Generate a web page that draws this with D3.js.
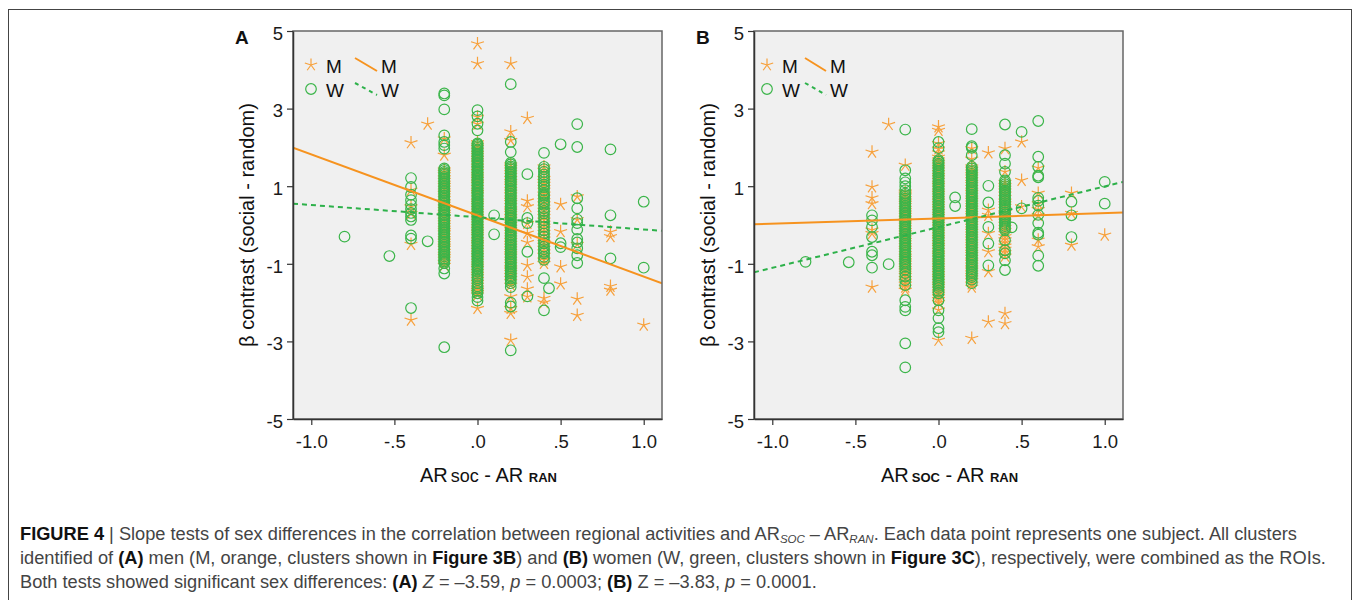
<!DOCTYPE html>
<html>
<head>
<meta charset="utf-8">
<script src="https://cdn.jsdelivr.net/npm/d3@7/dist/d3.min.js"></script>
<style>
body { margin:0; background:#fff; }
svg text { font-family: "Liberation Sans", Arial, Helvetica, sans-serif; }
</style>
</head>
<body>
<svg id="fig" width="1358" height="600"></svg>
<script>
// tick values and labels
var yTicks = [5, 3, 1, -1, -3, -5];
var xTicks = [-1, -0.5, 0, 0.5, 1];
var xTickLabels = ["-1.0", "-.5", ".0", ".5", "1.0"];

// fit lines, y value at left / right end of the x range
var fitX = [-1.11, 1.11];
var fitA_M = [1.99, -1.50];
var fitA_W = [0.55, -0.15];
var fitB_M = [0.02, 0.32];
var fitB_W = [-1.22, 1.11];

// points, grouped by x column: [x, [y values]]
var menA = [
  [-0.4, [2.12, 0.9, 0.47, 0.3, -0.5, -2.45]],
  [-0.3, [2.6]],
  [-0.2, [2.22, 1.8, 1.42, 1.36, 1.3, 1.22, 1.15, 1.08, 1.02, 0.95, 0.88, 0.82, 0.75, 0.68, 0.6, 0.54, 0.47, 0.4, 0.33, 0.27, 0.2, 0.13, 0.06, -0.01, -0.08, -0.14, -0.2, -0.28, -0.35, -0.41, -0.48, -0.54, -0.6, -0.68, -0.75, -0.81, -0.88, -0.96, -1.04]],
  [0, [4.67, 4.16, 2.78, 2.6, 2.12, 2.06, 2.0, 1.93, 1.85, 1.79, 1.72, 1.66, 1.6, 1.52, 1.45, 1.38, 1.3, 1.24, 1.18, 1.11, 1.05, 0.97, 0.9, 0.84, 0.78, 0.7, 0.62, 0.56, 0.5, 0.43, 0.36, 0.29, 0.22, 0.16, 0.1, 0.03, -0.04, -0.11, -0.18, -0.24, -0.3, -0.38, -0.45, -0.51, -0.58, -0.65, -0.72, -0.79, -0.86, -0.93, -1.0, -1.06, -1.12, -1.2, -1.27, -1.33, -1.4, -1.48, -1.55, -1.62, -1.68, -1.74, -1.8, -2.15]],
  [0.2, [4.16, 2.4, 2.18, 1.55, 1.49, 1.42, 1.35, 1.28, 1.2, 1.12, 1.06, 1.0, 0.92, 0.85, 0.78, 0.7, 0.64, 0.58, 0.5, 0.42, 0.36, 0.3, 0.22, 0.15, 0.08, 0.02, -0.05, -0.12, -0.19, -0.26, -0.33, -0.4, -0.47, -0.54, -0.61, -0.68, -0.74, -0.8, -0.88, -0.95, -1.02, -1.1, -1.16, -1.22, -1.3, -1.38, -1.46, -1.55, -1.85, -2.15, -2.28, -2.97]],
  [0.3, [2.75, 0.62, 0.47, 0.04, -0.21, -0.45, -1.04, -1.34, -1.65, -1.85]],
  [0.4, [1.5, 1.41, 1.2, 1.12, 1.05, 0.97, 0.9, 0.8, 0.72, 0.63, 0.55, 0.46, 0.38, 0.3, 0.22, 0.13, 0.05, -0.03, -0.1, -0.19, -0.28, -0.36, -0.45, -0.52, -0.6, -0.69, -0.78, -0.9, -0.99, -1.89, -2.0]],
  [0.5, [0.53, -0.17, -1.08, -1.52]],
  [0.6, [0.73, 0.14, -0.5, -1.91, -2.33]],
  [0.8, [-0.18, -0.3, -1.58, -1.68]],
  [1.0, [-2.58]]
];
var womenA = [
  [-0.8, [-0.30]],
  [-0.53, [-0.80]],
  [-0.4, [1.21, 0.98, 0.78, 0.64, 0.52, 0.41, 0.31, 0.22, 0.13, -0.27, -0.35, -2.14]],
  [-0.3, [-0.42]],
  [-0.2, [3.39, 3.34, 2.98, 2.31, 2.14, 2.06, 1.97, 1.46, 1.42, 1.37, 1.33, 1.29, 1.24, 1.2, 1.16, 1.11, 1.07, 1.02, 0.98, 0.94, 0.89, 0.85, 0.81, 0.76, 0.72, 0.67, 0.63, 0.59, 0.54, 0.5, 0.46, 0.41, 0.37, 0.33, 0.28, 0.24, 0.19, 0.15, 0.11, 0.06, 0.02, -0.02, -0.07, -0.11, -0.16, -0.2, -0.24, -0.29, -0.33, -0.37, -0.42, -0.46, -0.51, -0.55, -0.59, -0.64, -0.68, -0.72, -0.77, -0.81, -0.86, -0.9, -0.94, -0.98, -1.12, -1.25, -3.15]],
  [0, [2.96, 2.8, 2.61, 2.44, 2.1, 2.07, 2.03, 1.99, 1.95, 1.92, 1.88, 1.84, 1.8, 1.77, 1.72, 1.69, 1.65, 1.61, 1.57, 1.53, 1.5, 1.46, 1.41, 1.38, 1.34, 1.3, 1.26, 1.22, 1.18, 1.15, 1.1, 1.07, 1.03, 0.99, 0.95, 0.91, 0.87, 0.83, 0.8, 0.76, 0.72, 0.68, 0.64, 0.6, 0.56, 0.53, 0.49, 0.45, 0.41, 0.37, 0.33, 0.29, 0.25, 0.22, 0.18, 0.14, 0.1, 0.06, 0.02, -0.02, -0.06, -0.1, -0.13, -0.17, -0.21, -0.25, -0.29, -0.33, -0.37, -0.41, -0.44, -0.48, -0.52, -0.56, -0.6, -0.64, -0.68, -0.72, -0.75, -0.79, -0.83, -0.87, -0.91, -0.95, -0.99, -1.03, -1.07, -1.11, -1.15, -1.2, -1.26, -1.31, -1.37, -1.42, -1.5, -1.58, -1.64, -1.7, -1.76, -1.86, -1.95]],
  [0.1, [0.25, -0.24]],
  [0.2, [3.63, 2.14, 1.88, 1.6, 1.56, 1.51, 1.47, 1.43, 1.38, 1.34, 1.29, 1.25, 1.21, 1.16, 1.12, 1.08, 1.03, 0.99, 0.94, 0.9, 0.86, 0.81, 0.77, 0.73, 0.68, 0.64, 0.59, 0.55, 0.51, 0.46, 0.42, 0.38, 0.33, 0.29, 0.24, 0.2, 0.16, 0.11, 0.07, 0.03, -0.02, -0.06, -0.11, -0.15, -0.19, -0.24, -0.28, -0.32, -0.37, -0.41, -0.46, -0.5, -0.54, -0.59, -0.63, -0.67, -0.72, -0.76, -0.81, -0.85, -0.89, -0.94, -0.98, -1.02, -1.07, -1.11, -1.16, -1.2, -1.24, -1.29, -1.33, -1.38, -1.44, -1.5, -1.6, -2.0, -2.1, -3.23]],
  [0.3, [1.31, 0.18, 0.05, -0.69, -1.84]],
  [0.4, [1.86, 1.5, 1.44, 1.37, 1.3, 1.24, 1.17, 1.1, 1.04, 0.98, 0.9, 0.81, 0.76, 0.72, 0.64, 0.58, 0.52, 0.43, 0.36, 0.3, 0.21, 0.12, 0.04, -0.05, -0.14, -0.22, -0.3, -0.39, -0.47, -0.56, -0.62, -0.69, -0.73, -0.82, -0.9, -1.37, -2.2]],
  [0.43, [-1.63]],
  [0.5, [2.08, -0.47, -0.57]],
  [0.6, [2.6, 2.01, 0.69, 0.43, 0.14, 0.05, -0.12, -0.36, -0.45, -0.6, -0.78, -0.98]],
  [0.8, [1.95, 0.25, -0.86]],
  [1.0, [0.6, -1.1]]
];
var menB = [
  [-0.4, [1.88, 0.98, 0.7, 0.55, -0.13, -0.22, -1.6]],
  [-0.3, [2.59]],
  [-0.2, [1.54, 0.85, 0.8, 0.75, 0.68, 0.62, 0.56, 0.5, 0.43, 0.37, 0.31, 0.25, 0.18, 0.12, 0.06, 0.0, -0.07, -0.14, -0.2, -0.27, -0.33, -0.4, -0.46, -0.53, -0.6, -0.66, -0.73, -0.8, -0.86, -0.92, -0.98, -1.05, -1.12, -1.18, -1.24, -1.3, -1.38, -1.45, -1.52, -1.6, -1.68]],
  [0, [2.53, 2.44, 2.1, 1.96, 1.86, 1.75, 1.68, 1.62, 1.55, 1.48, 1.42, 1.35, 1.28, 1.22, 1.15, 1.08, 1.02, 0.95, 0.88, 0.82, 0.75, 0.68, 0.62, 0.55, 0.48, 0.42, 0.35, 0.28, 0.22, 0.15, 0.08, 0.02, -0.05, -0.12, -0.18, -0.25, -0.32, -0.38, -0.45, -0.52, -0.58, -0.65, -0.72, -0.78, -0.85, -0.92, -0.98, -1.05, -1.12, -1.18, -1.25, -1.32, -1.38, -1.45, -1.52, -1.58, -1.65, -1.72, -1.78, -1.85, -1.92, -2.0, -2.19, -2.97]],
  [0.2, [1.97, 1.7, 1.5, 1.44, 1.37, 1.3, 1.24, 1.17, 1.1, 1.04, 0.97, 0.9, 0.84, 0.77, 0.7, 0.64, 0.57, 0.5, 0.44, 0.37, 0.3, 0.24, 0.17, 0.1, 0.04, -0.03, -0.1, -0.16, -0.23, -0.3, -0.36, -0.43, -0.5, -0.56, -0.63, -0.7, -0.76, -0.83, -0.9, -0.96, -1.03, -1.1, -1.16, -1.23, -1.3, -1.36, -1.43, -1.52, -1.6, -2.92]],
  [0.3, [1.86, 0.38, 0.25, -0.22, -0.69, -1.2, -2.5]],
  [0.4, [1.97, 1.37, 1.1, 1.02, 0.95, 0.88, 0.8, 0.71, 0.62, 0.55, 0.48, 0.4, 0.32, 0.25, 0.18, 0.1, 0.02, -0.06, -0.14, -0.22, -0.3, -0.38, -0.46, -0.54, -0.62, -0.71, -0.8, -2.28, -2.54]],
  [0.5, [2.14, 1.15, 0.47]],
  [0.6, [1.47, 0.82, 0.55, 0.4, 0.25, -0.39, -0.56]],
  [0.8, [0.82, 0.3, -0.52]],
  [1.0, [-0.26]]
];
var womenB = [
  [-0.8, [-0.95]],
  [-0.54, [-0.96]],
  [-0.4, [0.25, 0.12, -0.05, -0.31, -0.69, -0.78, -1.1]],
  [-0.3, [-1.01]],
  [-0.2, [2.46, 1.41, 1.2, 1.1, 1.0, 0.9, 0.81, 0.77, 0.72, 0.68, 0.63, 0.59, 0.55, 0.5, 0.46, 0.41, 0.37, 0.32, 0.28, 0.23, 0.19, 0.14, 0.1, 0.05, 0.01, -0.04, -0.08, -0.13, -0.17, -0.22, -0.26, -0.31, -0.35, -0.4, -0.44, -0.49, -0.53, -0.58, -0.62, -0.67, -0.71, -0.76, -0.8, -0.85, -0.89, -0.94, -0.98, -1.03, -1.08, -1.15, -1.24, -1.33, -1.42, -1.55, -1.94, -2.11, -2.2, -3.05, -3.67]],
  [0, [2.14, 1.98, 1.67, 1.63, 1.58, 1.54, 1.49, 1.45, 1.4, 1.36, 1.31, 1.27, 1.22, 1.18, 1.13, 1.09, 1.04, 1.0, 0.95, 0.91, 0.86, 0.82, 0.77, 0.73, 0.68, 0.64, 0.59, 0.55, 0.5, 0.46, 0.41, 0.37, 0.32, 0.28, 0.23, 0.19, 0.14, 0.1, 0.05, 0.01, -0.04, -0.08, -0.13, -0.17, -0.22, -0.26, -0.31, -0.35, -0.4, -0.44, -0.49, -0.53, -0.58, -0.62, -0.67, -0.71, -0.76, -0.8, -0.85, -0.89, -0.94, -0.98, -1.03, -1.07, -1.12, -1.16, -1.21, -1.25, -1.3, -1.34, -1.39, -1.43, -1.48, -1.52, -1.57, -1.62, -1.7, -1.76, -1.94, -2.2, -2.4, -2.66, -2.76]],
  [0.1, [0.71, 0.49]],
  [0.2, [2.47, 2.03, 1.99, 1.8, 1.5, 1.46, 1.41, 1.37, 1.32, 1.28, 1.23, 1.19, 1.14, 1.1, 1.05, 1.01, 0.96, 0.92, 0.87, 0.83, 0.78, 0.74, 0.69, 0.65, 0.6, 0.56, 0.51, 0.47, 0.42, 0.38, 0.33, 0.29, 0.24, 0.2, 0.15, 0.11, 0.06, 0.02, -0.03, -0.07, -0.12, -0.16, -0.21, -0.25, -0.3, -0.34, -0.39, -0.43, -0.48, -0.52, -0.57, -0.61, -0.66, -0.7, -0.75, -0.79, -0.84, -0.88, -0.93, -0.97, -1.02, -1.06, -1.11, -1.15, -1.2, -1.24, -1.29, -1.34, -1.41, -1.5]],
  [0.3, [1.01, 0.58, -0.05, -0.48, -1.04]],
  [0.4, [2.59, 1.8, 1.58, 1.37, 1.15, 1.1, 1.05, 1.0, 0.95, 0.9, 0.86, 0.81, 0.76, 0.71, 0.66, 0.62, 0.57, 0.52, 0.47, 0.42, 0.37, 0.32, 0.27, 0.22, 0.18, 0.13, 0.08, 0.03, -0.03, -0.08, -0.13, -0.39, -0.65, -0.73, -0.91, -1.16]],
  [0.44, [-0.06]],
  [0.5, [2.4, 0.43]],
  [0.6, [2.68, 1.76, 1.5, 1.27, 1.23, 0.7, 0.62, 0.5, 0.26, 0.05, -0.2, -0.25, -0.79, -1.05]],
  [0.8, [0.6, 0.25, -0.31]],
  [1.0, [1.11, 0.55]]
];

var ORANGE = "#f7a13c", ORANGE_LINE = "#f6931f";
var GREEN = "#3bb54a", GREEN_LINE = "#2db14a";

var svg = d3.select("#fig");

// outer frame
svg.append("rect").attr("x", 8.5).attr("y", 9.5).attr("width", 1343).attr("height", 620)
   .attr("fill", "none").attr("stroke", "#444").attr("stroke-width", 1);

var panels = [
  {id: "A", left: 293, men: menA, women: womenA, fitM: fitA_M, fitW: fitA_W, soc: "soc", socSize: 18, leg: [18, 33, 62, 84, 88]},
  {id: "B", left: 754, men: menB, women: womenB, fitM: fitB_M, fitW: fitB_W, soc: "SOC", socSize: 13, leg: [13, 28, 51, 72, 76]}
];

var W = 369, TOP = 31, BOTTOM = 419;

function starPath(r) {
  var d = "";
  for (var k = 0; k < 5; k++) {
    var a = (-90 + 72 * k) * Math.PI / 180;
    d += "M0,0L" + (r * Math.cos(a)).toFixed(2) + "," + (r * Math.sin(a)).toFixed(2);
  }
  return d;
}

function flat(cols) {
  var pts = [];
  cols.forEach(function(c) { c[1].forEach(function(v) { pts.push([c[0], v]); }); });
  return pts;
}

panels.forEach(function(p) {
  var g = svg.append("g");
  var x = d3.scaleLinear().domain([-1.11, 1.11]).range([p.left, p.left + W]);
  var y = d3.scaleLinear().domain([-5, 5]).range([BOTTOM, TOP]);
  var clipId = "clip" + p.id;

  svg.append("clipPath").attr("id", clipId).append("rect")
     .attr("x", p.left).attr("y", TOP).attr("width", W).attr("height", BOTTOM - TOP);

  g.append("rect").attr("x", p.left).attr("y", TOP).attr("width", W).attr("height", BOTTOM - TOP)
   .attr("fill", "#f0f0f0");

  var marks = g.append("g").attr("clip-path", "url(#" + clipId + ")");

  // men: stars
  marks.selectAll("path.star").data(flat(p.men)).enter().append("path")
    .attr("class", "star")
    .attr("d", starPath(6.8))
    .attr("transform", function(d) { return "translate(" + x(d[0]) + "," + y(d[1]) + ")"; })
    .attr("fill", "none").attr("stroke", ORANGE).attr("stroke-width", 1.2);

  // women: circles
  marks.selectAll("circle").data(flat(p.women)).enter().append("circle")
    .attr("cx", function(d) { return x(d[0]); })
    .attr("cy", function(d) { return y(d[1]); })
    .attr("r", 5.3)
    .attr("fill", "none").attr("stroke", GREEN).attr("stroke-width", 1.2);

  // fit lines
  marks.append("line")
    .attr("x1", x(fitX[0])).attr("y1", y(p.fitM[0]))
    .attr("x2", x(fitX[1])).attr("y2", y(p.fitM[1]))
    .attr("stroke", ORANGE_LINE).attr("stroke-width", 2);
  marks.append("line")
    .attr("x1", x(fitX[0])).attr("y1", y(p.fitW[0]))
    .attr("x2", x(fitX[1])).attr("y2", y(p.fitW[1]))
    .attr("stroke", GREEN_LINE).attr("stroke-width", 2).attr("stroke-dasharray", "5,4");

  // frame
  g.append("rect").attr("x", p.left).attr("y", TOP).attr("width", W).attr("height", BOTTOM - TOP)
   .attr("fill", "none").attr("stroke", "#666").attr("stroke-width", 1.5);

  // axes
  var ya = g.append("g").attr("transform", "translate(" + p.left + ",0)")
    .call(d3.axisLeft(y).tickValues(yTicks).tickSize(6).tickSizeOuter(0).tickPadding(4)
          .tickFormat(function(d) { return String(d); }));
  var xa = g.append("g").attr("transform", "translate(0," + BOTTOM + ")")
    .call(d3.axisBottom(x).tickValues(xTicks).tickSize(6).tickSizeOuter(0).tickPadding(10)
          .tickFormat(function(d, i) { return xTickLabels[i]; }));
  [ya, xa].forEach(function(a) {
    a.select(".domain").attr("stroke", "#333").attr("stroke-width", 1.5);
    a.selectAll(".tick line").attr("stroke", "#333").attr("stroke-width", 1.2);
    a.selectAll(".tick text").attr("fill", "#1a1a1a").style("font-size", "18.5px")
      .style("font-family", '"Liberation Sans", Arial, sans-serif');
  });
  ya.selectAll(".tick text").attr("dy", "0.45em");

  // panel letter
  g.append("text").attr("x", p.left - 58).attr("y", 44).text(p.id)
    .style("font-size", "19px").style("font-weight", "bold").attr("fill", "#111");

  // y title
  g.append("text")
    .attr("transform", "translate(" + (p.left - 39) + "," + ((TOP + BOTTOM) / 2) + ") rotate(-90)")
    .attr("text-anchor", "middle").style("font-size", "20px").attr("fill", "#111")
    .text("β contrast (social - random)");

  // x title
  var xt = g.append("text").attr("x", p.left + 127).attr("y", 482).attr("fill", "#111")
    .style("font-size", "20px");
  xt.append("tspan").text("AR");
  xt.append("tspan").attr("dx", 3).style("font-size", p.socSize + "px")
    .style("font-weight", p.id === "B" ? "bold" : "normal").text(p.soc);
  xt.append("tspan").attr("dx", 0).text(" - AR ");
  xt.append("tspan").style("font-size", "13px").style("font-weight", "bold").text("RAN");

  // legend
  var L = p.leg;
  g.append("path").attr("d", starPath(6.5))
    .attr("transform", "translate(" + (p.left + L[0]) + ",65)")
    .attr("fill", "none").attr("stroke", ORANGE).attr("stroke-width", 1.2);
  g.append("circle").attr("cx", p.left + L[0]).attr("cy", 89).attr("r", 5.3)
    .attr("fill", "none").attr("stroke", GREEN).attr("stroke-width", 1.2);
  g.append("text").attr("x", p.left + L[1]).attr("y", 73).text("M").style("font-size", "19px").attr("fill", "#111");
  g.append("text").attr("x", p.left + L[1]).attr("y", 97).text("W").style("font-size", "19px").attr("fill", "#111");
  g.append("line").attr("x1", p.left + L[2]).attr("y1", 58).attr("x2", p.left + L[3]).attr("y2", 71)
    .attr("stroke", ORANGE_LINE).attr("stroke-width", 2);
  g.append("line").attr("x1", p.left + L[2]).attr("y1", 83).attr("x2", p.left + L[3]).attr("y2", 95)
    .attr("stroke", GREEN_LINE).attr("stroke-width", 2).attr("stroke-dasharray", "4,4");
  g.append("text").attr("x", p.left + L[4]).attr("y", 73).text("M").style("font-size", "19px").attr("fill", "#111");
  g.append("text").attr("x", p.left + L[4]).attr("y", 97).text("W").style("font-size", "19px").attr("fill", "#111");
});

// caption
var captionLines = [
  [["b", "FIGURE 4"], ["n", " | Slope tests of sex differences in the correlation between regional activities and AR"], ["sub", "SOC"], ["n", " – AR"], ["sub", "RAN"], ["n", ". Each data point represents one subject. All clusters"]],
  [["n", "identified of "], ["b", "(A)"], ["n", " men (M, orange, clusters shown in "], ["b", "Figure 3B"], ["n", ") and "], ["b", "(B)"], ["n", " women (W, green, clusters shown in "], ["b", "Figure 3C"], ["n", "), respectively, were combined as the ROIs."]],
  [["n", "Both tests showed significant sex differences: "], ["b", "(A)"], ["n", " "], ["i", "Z"], ["n", " = –3.59, "], ["i", "p"], ["n", " = 0.0003; "], ["b", "(B)"], ["n", " Z = –3.83, "], ["i", "p"], ["n", " = 0.0001."]]
];
var captionWidth = [1285, 1297, 0];
var captionY = [540, 564, 588];
var baseSize = 16;
var texts = [];
captionLines.forEach(function(line, li) {
  var t = svg.append("text").attr("x", 20).attr("y", captionY[li]).attr("fill", "#444")
    .style("font-size", baseSize + "px");
  line.forEach(function(seg) {
    var s = t.append("tspan").text(seg[1]);
    if (seg[0] === "b") s.style("font-weight", "bold").attr("fill", "#111");
    if (seg[0] === "i") s.style("font-style", "italic");
    if (seg[0] === "sub") s.style("font-style", "italic").style("font-size", "11.5px").attr("dy", 3);
  });
  // undo subscript shifts
  t.selectAll("tspan").each(function(d, i, nodes) {
    var prev = nodes[i - 1];
    if (prev && d3.select(prev).attr("dy") == 3 && d3.select(this).attr("dy") == null) d3.select(this).attr("dy", -3);
  });
  texts.push(t);
});
// scale caption font to the width of the first line
var w0 = texts[0].node().getComputedTextLength();
var k = captionWidth[0] / w0;
texts.forEach(function(t) { t.style("font-size", (baseSize * k) + "px"); });
</script>
</body>
</html>
